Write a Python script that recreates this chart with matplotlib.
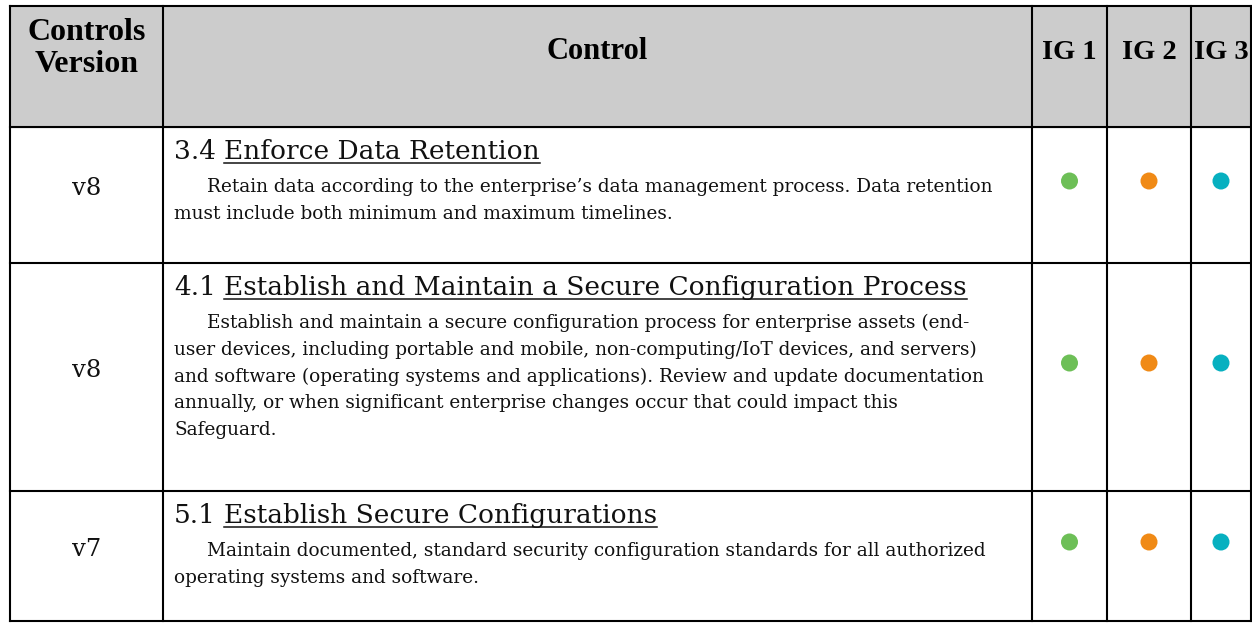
import matplotlib.pyplot as plt

# |====| table content
headers = ["Controls\nVersion", "Control", "IG 1", "IG 2", "IG 3"]
versions = ["v8", "v8", "v7"]
numbers = ["3.4", "4.1", "5.1"]
titles = ["Enforce Data Retention",
          "Establish and Maintain a Secure Configuration Process",
          "Establish Secure Configurations"]
descriptions = [
    ["Retain data according to the enterprise\u2019s data management process. Data retention",
     "must include both minimum and maximum timelines."],
    ["Establish and maintain a secure configuration process for enterprise assets (end-",
     "user devices, including portable and mobile, non-computing/IoT devices, and servers)",
     "and software (operating systems and applications). Review and update documentation",
     "annually, or when significant enterprise changes occur that could impact this",
     "Safeguard."],
    ["Maintain documented, standard security configuration standards for all authorized",
     "operating systems and software."],
]
ig1 = [True, True, True]
ig2 = [True, True, True]
ig3 = [True, True, True]
ig_colors = ["#6dbf57", "#f08a16", "#07b0c0"]

# |====| layout (pixels)
col_edges = [10, 163, 1032, 1107, 1191, 1251]
row_edges = [6, 127, 263, 491, 621]
head_font = "Liberation Serif"
body_font = "DejaVu Serif"
ink = "#111111"

fig = plt.figure(figsize=(12.52, 6.24), dpi=100)
ax = fig.add_axes([0, 0, 1, 1])
ax.set_xlim(0, 1252)
ax.set_ylim(624, 0)
ax.axis("off")

# header background
ax.fill_between([col_edges[0], col_edges[-1]], row_edges[0], row_edges[1], color="#cccccc", zorder=0)

# grid lines
for x in col_edges:
    ax.plot([x, x], [row_edges[0], row_edges[-1]], color="black", lw=1.5, solid_capstyle="projecting")
for y in row_edges:
    ax.plot([col_edges[0], col_edges[-1]], [y, y], color="black", lw=1.5, solid_capstyle="projecting")

centers = [(col_edges[i] + col_edges[i + 1]) / 2 for i in range(len(col_edges) - 1)]
top = row_edges[0]

# header text
first, second = headers[0].split("\n")
ax.text(centers[0], top + 34, first, ha="center", va="baseline", family=head_font, weight="bold", fontsize=23)
ax.text(centers[0], top + 66, second, ha="center", va="baseline", family=head_font, weight="bold", fontsize=23)
ax.text(centers[1], top + 53, headers[1], ha="center", va="baseline", family=head_font, weight="bold", fontsize=22)
for i in range(2, 5):
    ax.text(centers[i], top + 53, headers[i], ha="center", va="baseline", family=head_font, weight="bold", fontsize=20.5)

fig.canvas.draw()
renderer = fig.canvas.get_renderer()
inv = ax.transData.inverted()

for r in range(len(versions)):
    y0, y1 = row_edges[r + 1], row_edges[r + 2]
    ymid = (y0 + y1) / 2
    ax.text(centers[0], ymid, versions[r], ha="center", va="baseline", family=body_font, fontsize=17.5, color=ink)

    x_text = col_edges[1] + 11
    t_num = ax.text(x_text, y0 + 32, numbers[r], va="baseline", family=body_font, fontsize=19, color=ink)
    bb = t_num.get_window_extent(renderer)
    x_title = inv.transform((bb.x1, 0))[0] + 8
    t_title = ax.text(x_title, y0 + 32, titles[r], va="baseline", family=body_font, fontsize=19, color=ink)
    bb2 = t_title.get_window_extent(renderer)
    x_end = inv.transform((bb2.x1, 0))[0]
    ax.plot([x_title, x_end], [y0 + 36, y0 + 36], color=ink, lw=1.1)

    for k, line in enumerate(descriptions[r]):
        indent = 33 if k == 0 else 0
        ax.text(x_text + indent, y0 + 65 + k * 26.8, line, va="baseline", family=body_font, fontsize=13.3, color=ink)

    flags = [ig1[r], ig2[r], ig3[r]]
    for j in range(3):
        if flags[j]:
            ax.scatter(centers[2 + j], ymid - 14, s=150, color=ig_colors[j], edgecolors="none", zorder=3)

fig.savefig("out.png", dpi=100)
